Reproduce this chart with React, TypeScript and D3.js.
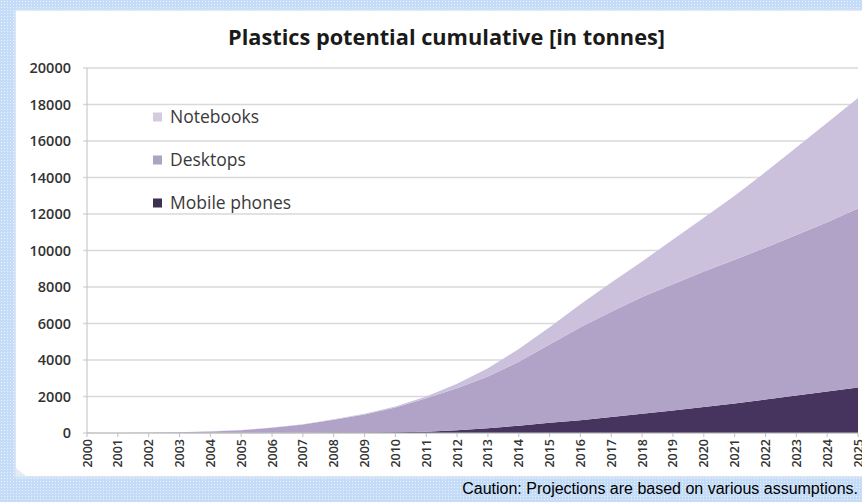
import React from "react";
import * as d3 from "d3";

// Years on the category axis
const years: number[] = [
  2000, 2001, 2002, 2003, 2004, 2005, 2006, 2007, 2008, 2009, 2010, 2011, 2012,
  2013, 2014, 2015, 2016, 2017, 2018, 2019, 2020, 2021, 2022, 2023, 2024, 2025,
];

// Cumulative plastics per device type, tonnes
const mobilePhones: number[] = [
  0, 0, 2, 5, 8, 12, 16, 20, 25, 30, 40, 70, 150, 260, 400, 560, 700, 870, 1050,
  1230, 1420, 1620, 1830, 2050, 2270, 2500,
];
const desktops: number[] = [
  0, 5, 18, 40, 80, 140, 275, 445, 700, 990, 1360, 1830, 2300, 2840, 3500, 4290,
  5100, 5780, 6400, 6920, 7430, 7880, 8320, 8800, 9280, 9800,
];
const notebooks: number[] = [
  0, 0, 0, 0, 2, 8, 9, 15, 25, 30, 50, 100, 250, 450, 700, 950, 1250, 1600,
  1950, 2450, 2950, 3500, 4150, 4800, 5450, 6050,
];

const seriesNames: string[] = ["Mobile phones", "Desktops", "Notebooks"];
const seriesColors: string[] = ["#46335e", "#b1a2c8", "#cbc1dd"];
const legendColors: string[] = ["#3b3150", "#aea4c0", "#d3cce0"];

const yTicks: number[] = [
  0, 2000, 4000, 6000, 8000, 10000, 12000, 14000, 16000, 18000, 20000,
];

const title = "Plastics potential cumulative [in tonnes]";
const caption = "Caution: Projections are based on various assumptions.";

const W = 862;
const H = 502;
const plot = { left: 87, right: 858, top: 68, bottom: 433 };

export default function App() {
  const x = d3
    .scalePoint<number>()
    .domain(years)
    .range([plot.left, plot.right]);
  const y = d3
    .scaleLinear()
    .domain([0, 20000])
    .range([plot.bottom, plot.top]);

  const table = years.map((yr, i) => ({
    year: yr,
    "Mobile phones": mobilePhones[i],
    Desktops: desktops[i],
    Notebooks: notebooks[i],
  }));
  const stacked = d3.stack<any>().keys(seriesNames)(table);
  const area = d3
    .area<any>()
    .x((d) => x(d.data.year) as number)
    .y0((d) => y(d[0]))
    .y1((d) => y(d[1]));

  const legendOrder = [2, 1, 0];
  const legendY = [117, 160, 203];

  return (
    <svg
      width={W}
      height={H}
      style={{ position: "absolute", left: 0, top: 0, display: "block" }}
    >
      <defs>
        <pattern id="dots" width="3" height="3" patternUnits="userSpaceOnUse">
          <rect width="3" height="3" fill="#c4dcf7" />
          <rect x="1" y="1" width="1" height="1" fill="#e9f2fd" />
        </pattern>
        <filter id="soft" x="-5%" y="-5%" width="110%" height="110%">
          <feGaussianBlur stdDeviation="1.5" />
        </filter>
      </defs>

      {/* page background */}
      <rect x={0} y={0} width={W} height={H} fill="url(#dots)" />

      {/* chart panel */}
      <rect x={15} y={10} width={W} height={467} fill="#e6ecf3" filter="url(#soft)" />
      <path d={`M16,11 H${W} V476 H26 L16,468 Z`} fill="#ffffff" />

      {/* title */}
      <text
        x={446.5}
        y={45}
        textAnchor="middle"
        fontFamily="'Open Sans', sans-serif"
        fontWeight={700}
        fontSize={20.5}
        fill="#1a1a1a"
        textLength={437}
        lengthAdjust="spacingAndGlyphs"
      >
        {title}
      </text>

      {/* gridlines */}
      {yTicks.map((t) => (
        <line
          key={"g" + t}
          x1={plot.left - 4}
          x2={plot.right}
          y1={y(t)}
          y2={y(t)}
          stroke="#d9d9d9"
          strokeWidth={1.5}
        />
      ))}

      {/* stacked areas */}
      {stacked.map((s, i) => (
        <path key={s.key} d={area(s) || ""} fill={seriesColors[i]} />
      ))}

      {/* axes */}
      <line
        x1={plot.left}
        x2={plot.left}
        y1={plot.top}
        y2={plot.bottom}
        stroke="#bfbfbf"
        strokeWidth={1}
      />
      <line
        x1={plot.left}
        x2={plot.right}
        y1={plot.bottom}
        y2={plot.bottom}
        stroke="#bfbfbf"
        strokeWidth={1}
      />
      {years.map((yr) => (
        <line
          key={"t" + yr}
          x1={x(yr) as number}
          x2={x(yr) as number}
          y1={plot.bottom}
          y2={plot.bottom + 4}
          stroke="#bfbfbf"
          strokeWidth={1}
        />
      ))}

      {/* y tick labels */}
      {yTicks.map((t) => (
        <text
          key={"yl" + t}
          x={71}
          y={y(t)}
          dy="0.36em"
          textAnchor="end"
          fontFamily="'Open Sans', sans-serif"
          fontWeight={600}
          fontSize={14.5}
          fill="#333333"
        >
          {t}
        </text>
      ))}

      {/* x tick labels */}
      {years.map((yr) => (
        <text
          key={"xl" + yr}
          transform={`translate(${(x(yr) as number) + 4.5},${plot.bottom + 6}) rotate(-90)`}
          textAnchor="end"
          fontFamily="'Open Sans', sans-serif"
          fontWeight={600}
          fontSize={12.5}
          fill="#333333"
        >
          {yr}
        </text>
      ))}

      {/* legend */}
      {legendOrder.map((si, k) => (
        <g key={"lg" + si}>
          <rect
            x={153}
            y={legendY[k] - 4.5}
            width={9}
            height={9}
            fill={legendColors[si]}
          />
          <text
            x={170}
            y={legendY[k]}
            dy="0.36em"
            fontFamily="'Open Sans', sans-serif"
            fontSize={17.5}
            fill="#3a3a3a"
          >
            {seriesNames[si]}
          </text>
        </g>
      ))}

      {/* caption */}
      <text
        x={858}
        y={494}
        textAnchor="end"
        fontFamily="'Liberation Sans', Arial, sans-serif"
        fontSize={16}
        fill="#000000"
      >
        {caption}
      </text>
    </svg>
  );
}
